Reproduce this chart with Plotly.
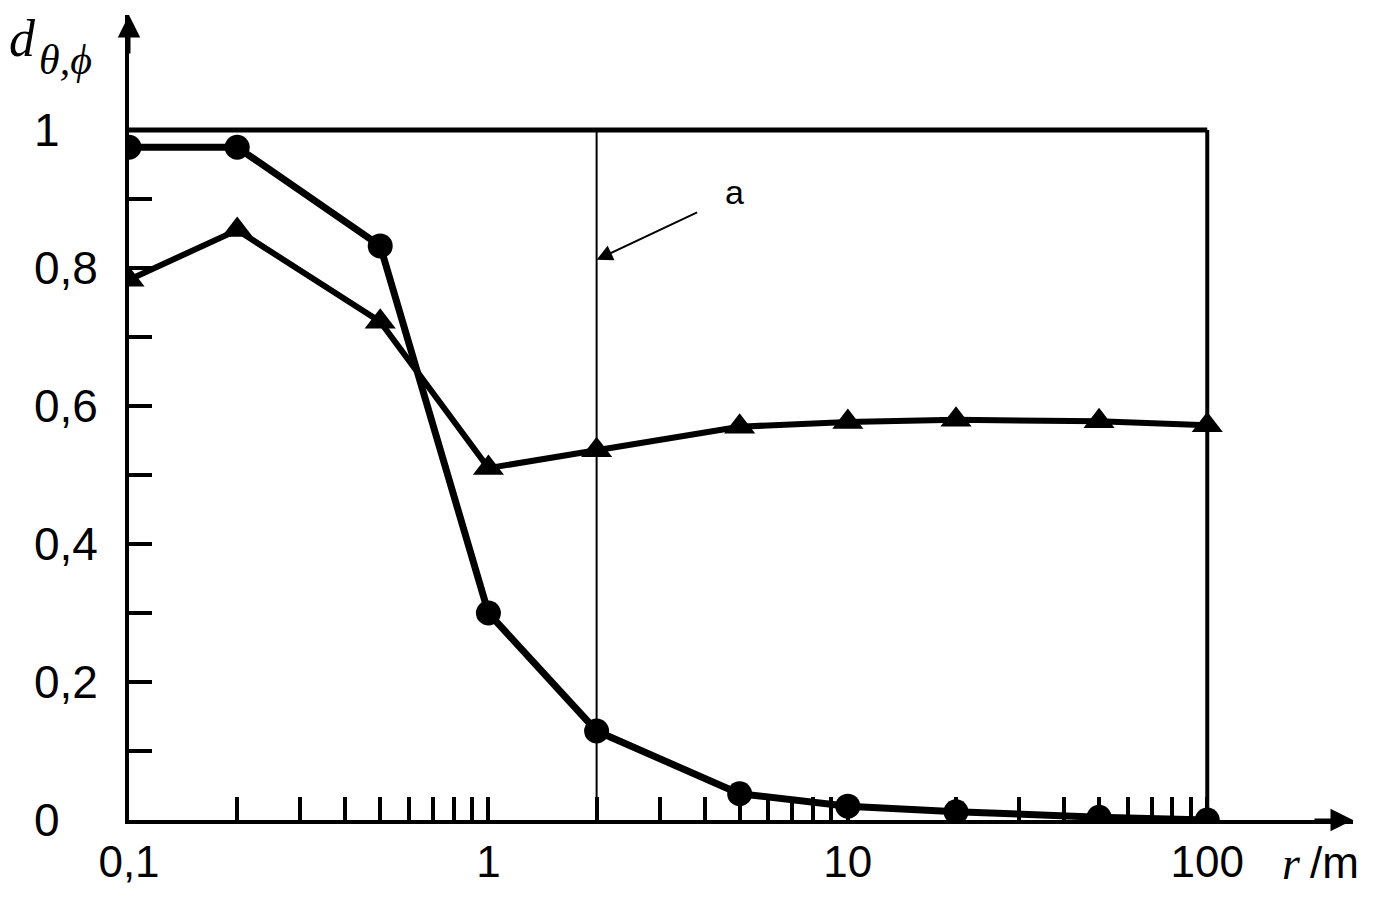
import numpy as np
import plotly.graph_objects as go

# distances r (m) and the two curves
r = [0.1, 0.2, 0.5, 1, 2, 5, 10, 20, 50, 100]
d_circle = [0.975, 0.975, 0.832, 0.300, 0.129, 0.038, 0.020, 0.012, 0.004, 0.0]
d_triangle = [0.783, 0.855, 0.722, 0.510, 0.536, 0.570, 0.577, 0.580, 0.578, 0.572]

# x tick marks at every 1..9 multiple, labels only at decades
x_ticks = [m * 10.0 ** e for e in range(-1, 2) for m in range(1, 10)] + [100]
x_labels = {0.1: "0,1", 1: "1", 10: "10", 100: "100"}
y_ticks = [round(0.1 * i, 1) for i in range(11)]
y_labels = ["0", "0,2", "0,4", "0,6", "0,8", "1"]
y_label_vals = [0, 0.2, 0.4, 0.6, 0.8, 1.0]

marker_r = 2  # position of line "a"

fig = go.Figure()

# frame: top line at 1 and right line at r=100
fig.add_trace(go.Scatter(x=[0.1, 100], y=[1, 1], mode="lines",
                         line=dict(color="black", width=5), hoverinfo="skip"))
fig.add_trace(go.Scatter(x=[100, 100], y=[0, 1], mode="lines",
                         line=dict(color="black", width=4), hoverinfo="skip"))
fig.add_trace(go.Scatter(x=[marker_r, marker_r], y=[0, 1], mode="lines",
                         line=dict(color="black", width=2), hoverinfo="skip"))

fig.add_trace(go.Scatter(x=r, y=d_circle, mode="lines+markers",
                         line=dict(color="black", width=7),
                         marker=dict(symbol="circle", size=25, color="black")))
fig.add_trace(go.Scatter(x=r, y=d_triangle, mode="lines+markers",
                         line=dict(color="black", width=6),
                         marker=dict(symbol="triangle-up", size=27, color="black")))

fig.update_xaxes(
    type="log", range=[-1, 2.4055],
    showline=True, linecolor="black", linewidth=4,
    showgrid=False, zeroline=False,
    tickmode="array", tickvals=x_ticks,
    ticktext=[x_labels.get(round(v, 3), "") for v in x_ticks],
    ticks="inside", ticklen=23, tickwidth=4, tickcolor="black",
    tickfont=dict(family="Liberation Sans", size=44, color="black"),
    ticklabelstandoff=0,
)
fig.update_yaxes(
    range=[0, 1.1667],
    showline=True, linecolor="black", linewidth=4,
    showgrid=False, zeroline=False,
    tickmode="array", tickvals=y_ticks,
    ticks="inside", ticklen=23, tickwidth=4, tickcolor="black",
    showticklabels=False,
)

annotations = []
# left-aligned y tick labels
for v, t in zip(y_label_vals, y_labels):
    annotations.append(dict(x=0, xref="paper", y=v, yref="y", text=t,
                            xanchor="left", yanchor="middle", xshift=-97,
                            showarrow=False,
                            font=dict(family="Liberation Sans", size=46, color="black")))

# axis arrows
annotations.append(dict(x=-1, y=1.1667, xref="x", yref="y", text="", showarrow=True,
                        ax=0, ay=40, arrowhead=2, arrowsize=1.5, arrowwidth=3,
                        arrowcolor="black"))
annotations.append(dict(x=2.4055, y=0, xref="x", yref="y", text="", showarrow=True,
                        ax=-40, ay=0, arrowhead=2, arrowsize=1.5, arrowwidth=3,
                        arrowcolor="black"))

# pointer to line a
annotations.append(dict(x=np.log10(marker_r), y=0.812, xref="x", yref="y", text="",
                        showarrow=True, ax=102, ay=-48, arrowhead=2, arrowsize=1.6,
                        arrowwidth=2, arrowcolor="black"))
annotations.append(dict(x=np.log10(marker_r), y=0.812, xref="x", yref="y", text="a",
                        showarrow=False, xshift=138, yshift=68,
                        font=dict(family="Liberation Sans", size=34, color="black")))

# axis titles
annotations.append(dict(x=0, y=1, xref="paper", yref="paper", text="<i>d</i>",
                        showarrow=False, xanchor="left", yanchor="top",
                        xshift=-122, yshift=7,
                        font=dict(family="Liberation Serif", size=52, color="black")))
annotations.append(dict(x=0, y=1, xref="paper", yref="paper", text="<i>θ,ϕ</i>",
                        showarrow=False, xanchor="left", yanchor="top",
                        xshift=-92, yshift=-20,
                        font=dict(family="Liberation Serif", size=42, color="black")))
annotations.append(dict(x=1, y=0, xref="paper", yref="paper", text="<i>r</i>",
                        showarrow=False, xanchor="right", yanchor="top",
                        xshift=-50, yshift=-16,
                        font=dict(family="Liberation Serif", size=46, color="black")))
annotations.append(dict(x=1, y=0, xref="paper", yref="paper", text="/m",
                        showarrow=False, xanchor="right", yanchor="top",
                        xshift=8, yshift=-16,
                        font=dict(family="Liberation Sans", size=44, color="black")))

# page body adds an 8 px offset, so the figure is sized to the visible window
fig.update_layout(
    width=1358, height=882,
    margin=dict(l=121, r=13, t=7, b=70, autoexpand=False),
    plot_bgcolor="white", paper_bgcolor="white",
    showlegend=False,
    annotations=annotations,
)

fig.write_html("out.html")
